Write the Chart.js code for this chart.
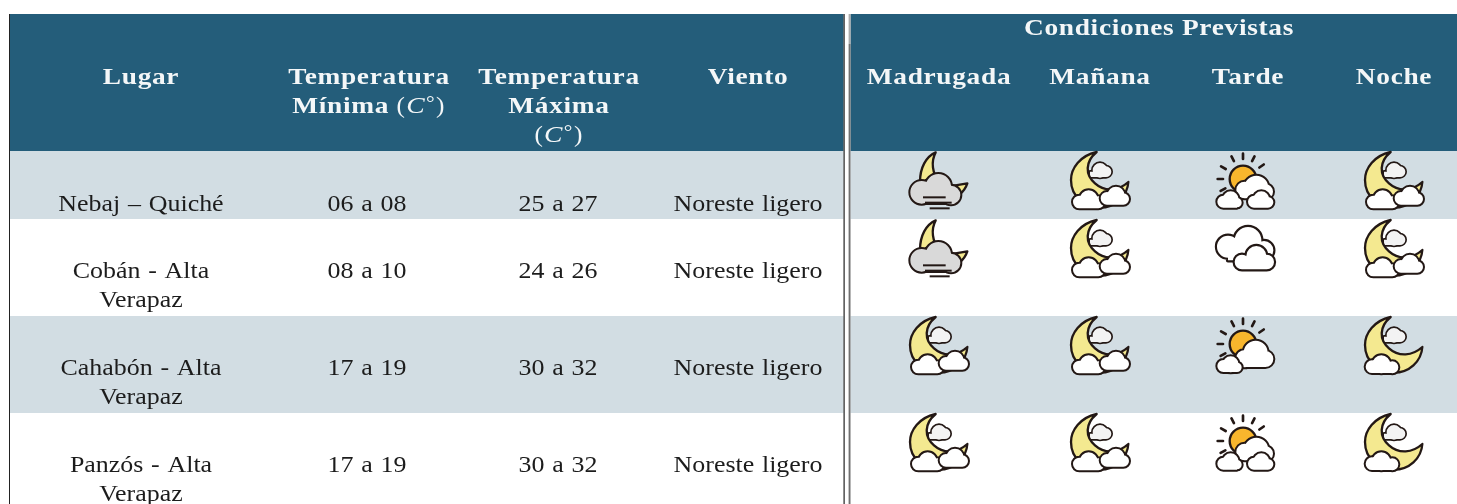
<!DOCTYPE html>
<html lang="es">
<head>
<meta charset="utf-8">
<title>Pronóstico por lugar</title>
<script src="https://cdn.jsdelivr.net/npm/chart.js@4"></script>
<style>
  html, body { margin: 0; padding: 0; background: #fff; }
  #wrap { width: 1457px; height: 504px; overflow: hidden; }
</style>
</head>
<body>
<div id="wrap"><canvas id="tabla" width="1457" height="504"></canvas></div>
<script>
// ===== Datos =====
const lugares = [["Nebaj – Quiché"], ["Cobán - Alta", "Verapaz"], ["Cahabón - Alta", "Verapaz"], ["Panzós - Alta", "Verapaz"]];
const tempMin = ["06 a 08", "08 a 10", "17 a 19", "17 a 19"];
const tempMax = ["25 a 27", "24 a 26", "30 a 32", "30 a 32"];
const viento = ["Noreste ligero", "Noreste ligero", "Noreste ligero", "Noreste ligero"];
const madrugada = ["niebla", "niebla", "luna3", "luna3"];
const manana = ["luna3", "luna3", "luna3", "luna3"];
const tarde = ["sol3", "nublado", "sol2", "sol3"];
const noche = ["luna3", "luna3", "luna2", "luna2"];
const encabezados = [["Lugar"], ["Temperatura", "Mínima (C°)"], ["Temperatura", "Máxima", "(C°)"], ["Viento"]];
const periodos = ["Madrugada", "Mañana", "Tarde", "Noche"];
const tituloPrevistas = "Condiciones Previstas";

// ===== Geometría de la tabla (en unidades de los ejes) =====
const colX = [141, 367, 558, 748, 939, 1100, 1248, 1394];
const cabeceraX = [141, 369, 559, 748];
const filaTop = [151, 219, 316, 413];
const filaBase = [211, 278, 375, 472];
const colorCabecera = "#245d7a";
const colorBanda = "#d2dde3";
const colorTexto = "#1c1c1c";
const colorTrazo = "#231815";

// ===== Iconos =====
// se dibujan en un lienzo de 100x75, con coordenadas x3
function nube(c, circulos, base, relleno, grosor) {
  const [x0, x1, y0, y1] = base;
  const camino = () => {
    const p = new Path2D();
    for (const [x, y, r] of circulos) { p.moveTo(x + r, y); p.arc(x, y, r, 0, Math.PI * 2); }
    p.rect(x0, y0, x1 - x0, y1 - y0);
    return p;
  };
  c.strokeStyle = colorTrazo;
  c.lineWidth = grosor * 2;
  c.lineJoin = "round";
  c.stroke(camino());
  c.fillStyle = relleno;
  c.fill(camino());
}

function luna(c) {
  c.beginPath();
  c.moveTo(140, 21);
  c.bezierCurveTo(90, 32, 63, 70, 63, 105);
  c.bezierCurveTo(63, 155, 105, 188, 150, 188);
  c.bezierCurveTo(195, 188, 232, 155, 235, 111);
  c.bezierCurveTo(205, 138, 165, 142, 135, 115);
  c.bezierCurveTo(105, 90, 105, 50, 140, 21);
  c.closePath();
  c.fillStyle = "#f4e990";
  c.fill();
  c.strokeStyle = colorTrazo;
  c.lineWidth = 7;
  c.lineJoin = "round";
  c.stroke();
}

function nubeTrasera(c) {
  nube(c, [[150, 76, 22], [168, 80, 16]], [120, 168, 80, 96], "#f3f3f3", 5);
}

function sol(c) {
  c.beginPath();
  c.arc(135, 102, 40, 0, Math.PI * 2);
  c.fillStyle = "#f8b62d";
  c.fill();
  c.strokeStyle = colorTrazo;
  c.lineWidth = 7;
  c.stroke();
  c.lineWidth = 8;
  c.lineCap = "round";
  for (const g of [-90, -63, -117, -35, -150, 180, 152]) {
    const a = g * Math.PI / 180;
    c.beginPath();
    c.moveTo(135 + Math.cos(a) * 60, 102 + Math.sin(a) * 60);
    c.lineTo(135 + Math.cos(a) * 76, 102 + Math.sin(a) * 76);
    c.stroke();
  }
  c.lineCap = "butt";
}

const dibujos = {
  niebla(c) {
    c.fillStyle = "#f4e990";
    c.strokeStyle = colorTrazo;
    c.lineWidth = 7;
    c.lineJoin = "round";
    c.beginPath();
    c.moveTo(140, 22);
    c.bezierCurveTo(110, 35, 93, 70, 93, 110);
    c.lineTo(150, 110);
    c.bezierCurveTo(130, 85, 125, 50, 140, 22);
    c.closePath();
    c.fill();
    c.stroke();
    c.beginPath();
    c.moveTo(195, 122);
    c.lineTo(235, 115);
    c.bezierCurveTo(230, 130, 222, 140, 212, 148);
    c.lineTo(195, 140);
    c.closePath();
    c.fill();
    c.stroke();
    nube(c, [[98, 142, 34], [148, 125, 38], [186, 150, 28]], [98, 186, 140, 174], "#d9d9d9", 6);
    c.strokeStyle = colorTrazo;
    c.lineWidth = 6;
    for (const [a, b, y] of [[102, 170, 157], [108, 188, 173], [122, 182, 190]]) {
      c.beginPath();
      c.moveTo(a, y);
      c.lineTo(b, y);
      c.stroke();
    }
  },
  luna3(c) {
    nubeTrasera(c);
    luna(c);
    nube(c, [[88, 171, 19], [116, 163, 27], [145, 172, 18]], [88, 145, 165, 190], "#fff", 6);
    nube(c, [[171, 160, 19], [198, 150, 25], [220, 162, 17]], [171, 220, 155, 179], "#fff", 6);
  },
  luna2(c) {
    nubeTrasera(c);
    luna(c);
    nube(c, [[84, 170, 19], [112, 163, 27], [145, 172, 18]], [84, 145, 165, 189], "#fff", 6);
  },
  sol3(c) {
    sol(c);
    nube(c, [[140, 135, 25], [175, 128, 36], [203, 140, 22]], [140, 203, 130, 160], "#fff", 6);
    nube(c, [[76, 170, 18], [98, 163, 24], [117, 173, 14]], [76, 117, 165, 188], "#fff", 6);
    nube(c, [[168, 170, 18], [190, 163, 24], [210, 172, 16]], [168, 210, 165, 188], "#fff", 6);
  },
  sol2(c) {
    sol(c);
    nube(c, [[140, 146, 26], [173, 128, 36], [202, 147, 24]], [140, 202, 130, 171], "#fff", 6);
    nube(c, [[76, 168, 18], [98, 163, 24], [117, 172, 14]], [76, 117, 160, 186], "#fff", 6);
  },
  nublado(c) {
    nube(c, [[90, 101, 33], [150, 82, 40], [198, 112, 28]], [90, 198, 100, 142], "#fff", 6.5);
    nube(c, [[132, 147, 22], [175, 129, 30], [206, 147, 22]], [132, 206, 140, 169], "#fff", 6.5);
  },
};

function crearIcono(nombre) {
  const lienzo = document.createElement("canvas");
  lienzo.width = 100;
  lienzo.height = 75;
  const c = lienzo.getContext("2d");
  c.scale(1 / 3, 1 / 3);
  dibujos[nombre](c);
  return lienzo;
}
const iconos = {};
for (const nombre of Object.keys(dibujos)) iconos[nombre] = crearIcono(nombre);

// un dataset scatter por periodo; el icono es el pointStyle de cada punto
function datasetPeriodo(serie, col) {
  return {
    label: periodos[col - 4],
    data: serie.map((_, i) => ({ x: colX[col], y: filaTop[i] + 31.5 })),
    pointStyle: serie.map(n => iconos[n]),
    pointRadius: 30,
    pointHoverRadius: 30,
    clip: false,
  };
}

// ===== Texto =====
function escribir(c, txt, x, y, fuente, espacio, escala, palabra = 0) {
  c.save();
  c.font = fuente;
  c.letterSpacing = espacio + "px";
  c.wordSpacing = palabra + "px";
  c.textAlign = "center";
  c.textBaseline = "alphabetic";
  c.translate(x, y);
  c.scale(escala, 1);
  c.fillText(txt, 0, 0);
  c.restore();
}

const fuenteBase = '"Liberation Serif", serif';
const NEGRITA = `bold 24px ${fuenteBase}`;

function celda(c, txt, x, y) {
  escribir(c, txt, x, y, `24px ${fuenteBase}`, 0, 1.08, 1.2);
}
function cabecera(c, txt, x, y) {
  escribir(c, txt, x, y, NEGRITA, 0.6, 1.14);
}

// "(C°)" va en redonda/cursiva sin negrita, como en la fórmula original
function cabeceraConGrados(c, txt, x, y) {
  const i = txt.indexOf("(C°)");
  if (i < 0) return cabecera(c, txt, x, y);
  const previo = txt.slice(0, i);
  const partes = [];
  if (previo) partes.push([previo, NEGRITA, 0, 0.6, 1.14]);
  partes.push(["(", `24px ${fuenteBase}`, 0, 1.2, 1.05]);
  partes.push(["C", `italic 24px ${fuenteBase}`, 0, 1.2, 1.15]);
  partes.push(["°", `18px ${fuenteBase}`, -4, 1.2, 1.2]);
  partes.push([")", `24px ${fuenteBase}`, 0, 1.2, 1.05]);
  c.save();
  let total = 0;
  for (const p of partes) {
    c.font = p[1];
    c.letterSpacing = p[3] + "px";
    p.push(c.measureText(p[0]).width * p[4]);
    total += p[5];
  }
  let cx = x - total / 2;
  c.restore();
  for (const p of partes) {
    escribir(c, p[0], cx + p[5] / 2, y + p[2], p[1], p[3], p[4]);
    cx += p[5];
  }
}

// ===== Plugin de la tabla =====
const tablaPlugin = {
  id: "tabla",
  beforeDatasetsDraw(chart) {
    const c = chart.ctx;
    const sx = v => chart.scales.x.getPixelForValue(v);
    const sy = v => chart.scales.y.getPixelForValue(v);
    const banda = (x0, x1, y0, y1, color) => {
      c.fillStyle = color;
      c.fillRect(sx(x0), sy(y0), sx(x1) - sx(x0), sy(y1) - sy(y0));
    };
    c.save();
    for (const [a, b] of [[10, 843.5], [850.5, 1457]]) {
      banda(a, b, 14, 151, colorCabecera);
      banda(a, b, filaTop[0], filaTop[1], colorBanda);
      banda(a, b, filaTop[2], filaTop[3], colorBanda);
    }
    banda(9, 10, 14, 504, "#222");
    banda(843.5, 844.7, 14, 504, "#222");
    banda(848.6, 850.5, 14, 44, "#aaa");
    banda(848.6, 850.5, 44, 504, "#707070");
    c.restore();
  },
  afterDatasetsDraw(chart) {
    const c = chart.ctx;
    const sx = v => chart.scales.x.getPixelForValue(v);
    const sy = v => chart.scales.y.getPixelForValue(v);
    c.save();
    // cabecera
    c.fillStyle = "#f4f7f8";
    encabezados.forEach((lineas, i) => {
      lineas.forEach((l, j) => cabeceraConGrados(c, l, sx(cabeceraX[i]), sy(84 + j * 29)));
    });
    periodos.forEach((p, i) => cabecera(c, p, sx(colX[i + 4]), sy(84)));
    cabecera(c, tituloPrevistas, sx(1159), sy(35));
    // filas
    c.fillStyle = colorTexto;
    lugares.forEach((lineas, i) => {
      const y = filaBase[i];
      lineas.forEach((l, j) => celda(c, l, sx(colX[0]), sy(y + j * 29)));
      celda(c, tempMin[i], sx(colX[1]), sy(y));
      celda(c, tempMax[i], sx(colX[2]), sy(y));
      celda(c, viento[i], sx(colX[3]), sy(y));
    });
    c.restore();
  },
};

// ===== Chart =====
new Chart(document.getElementById("tabla"), {
  type: "scatter",
  data: {
    datasets: [
      datasetPeriodo(madrugada, 4),
      datasetPeriodo(manana, 5),
      datasetPeriodo(tarde, 6),
      datasetPeriodo(noche, 7),
    ],
  },
  options: {
    responsive: false,
    animation: false,
    events: [],
    layout: { padding: 0, autoPadding: false },
    scales: {
      x: { type: "linear", display: false, min: 0, max: 1457 },
      y: { type: "linear", display: false, min: 0, max: 504, reverse: true },
    },
    plugins: { legend: { display: false }, tooltip: { enabled: false } },
  },
  plugins: [tablaPlugin],
});
</script>
</body>
</html>
